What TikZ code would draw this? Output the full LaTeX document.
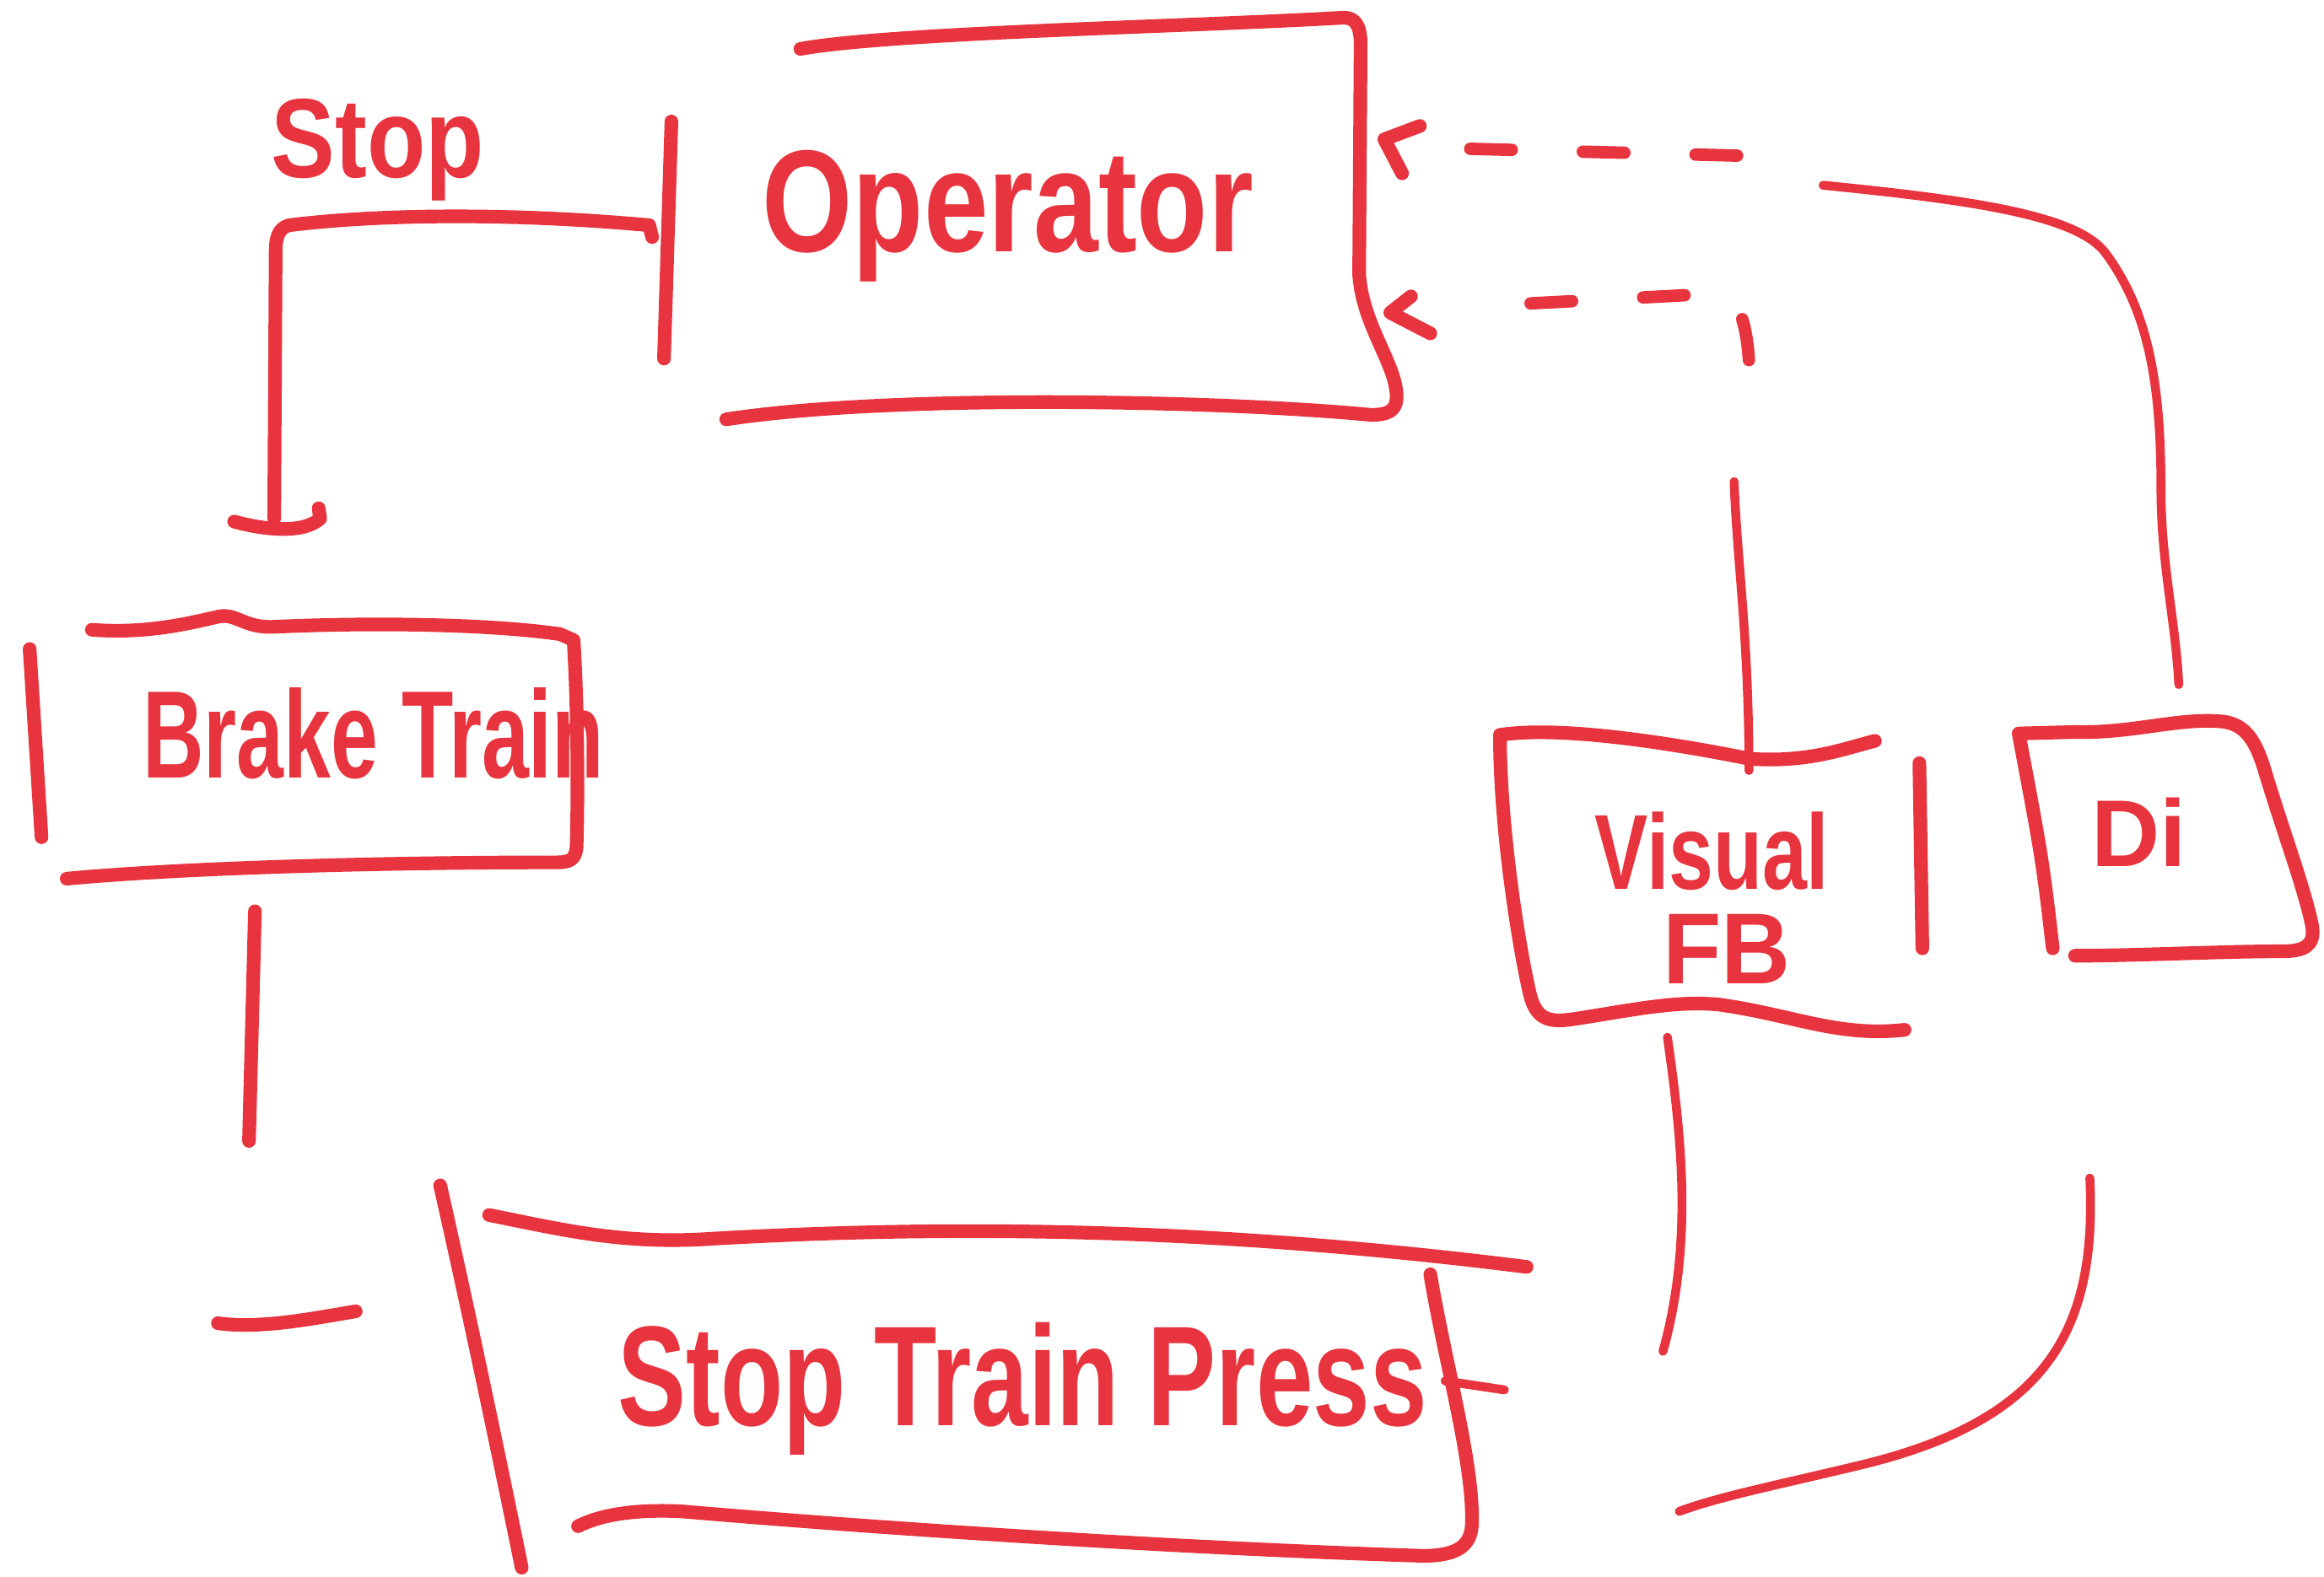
\documentclass[tikz,border=0pt]{standalone}
\usepackage{fontspec}
\setmainfont{Liberation Sans}
\definecolor{marker}{RGB}{232,52,62}
\begin{document}
\begin{tikzpicture}[x=0.01757cm,y=-0.01757cm,
  ink/.style={draw=marker,line width=4.6pt,line cap=round,line join=round},
  fine/.style={draw=marker,line width=3pt,line cap=round,line join=round},
  dashink/.style={draw=marker,line width=4.2pt,line cap=round,dash pattern=on 14pt off 24pt},
  hand/.style={text=marker,font=\bfseries\fontsize{#1}{#1}\selectfont,inner sep=0pt,anchor=base},
]
\useasboundingbox[fill=white] (0,0) rectangle (1568,1064);

% ---------- labels ----------
\node[hand=49,xscale=0.8]  (op)   at (680,170) {Operator};
\node[hand=38,xscale=0.85] (stop) at (255,120) {Stop};
\node[hand=42,xscale=0.68] (brk)  at (252,525) {Brake Train};
\node[hand=36,xscale=0.75] (vis)  at (1155,600) {Visual};
\node[hand=34,xscale=0.95] (fb)   at (1165,664) {FB};
\node[hand=32]             (di)   at (1443,585) {Di};
\node[hand=48,xscale=0.72] (stp)  at (690,962) {Stop Train Press};

% ---------- Operator box ----------
\draw[ink] (540,33) .. controls (600,22) and (800,18) .. (905,12)
  .. controls (915,11) and (918,18) .. (918,30) -- (917,185)
  .. controls (919,215) and (936,238) .. (941,258)
  .. controls (945,275) and (940,280) .. (925,280)
  .. controls (820,270) and (600,266) .. (490,283);
\coordinate (opbarT) at (453,82);
\coordinate (opbarB) at (448,242);
\draw[ink] (opbarT) -- (opbarB);

% ---------- Brake Train box ----------
\draw[ink] (62,425) .. controls (100,428) and (130,420) .. (148,416)
  .. controls (160,414) and (165,424) .. (185,423)
  .. controls (250,420) and (330,421) .. (378,428) -- (387,432)
  .. controls (390,480) and (390,540) .. (389,572)
  .. controls (388,580) and (385,582) .. (375,582)
  .. controls (250,582) and (120,586) .. (45,593);
\draw[ink] (20,438) -- (28,565);

% ---------- Stop Train Press box ----------
\coordinate (stpbarT) at (297,800);
\coordinate (stpbarB) at (352,1058);
\draw[ink] (stpbarT) .. controls (315,880) and (332,960) .. (stpbarB);
\draw[ink] (330,820) .. controls (380,830) and (420,840) .. (480,836)
  .. controls (620,828) and (800,826) .. (1030,855);
\draw[ink] (965,860) .. controls (975,920) and (995,990) .. (993,1030)
  .. controls (992,1045) and (980,1050) .. (960,1050)
  .. controls (800,1045) and (600,1032) .. (460,1020)
  .. controls (420,1018) and (400,1025) .. (390,1030);
\coordinate (stpR) at (975,932);
\draw[fine] (stpR) -- (1015,938);

% ---------- Visual FB box ----------
\draw[ink] (1265,500) .. controls (1245,505) and (1220,515) .. (1180,512)
  .. controls (1120,500) and (1050,490) .. (1012,496)
  .. controls (1012,560) and (1025,640) .. (1032,670)
  .. controls (1036,688) and (1045,690) .. (1060,688)
  .. controls (1100,682) and (1130,675) .. (1160,678)
  .. controls (1210,685) and (1240,700) .. (1285,695);
\draw[ink] (1295,515) -- (1297,640);
\coordinate (visT) at (1180,520);
\coordinate (visB) at (1125,700);

% ---------- Di box ----------
\draw[ink] (1385,640) .. controls (1378,580) .. (1362,495) -- (1400,494)
  .. controls (1440,495) and (1470,484) .. (1500,487)
  .. controls (1515,489) and (1522,500) .. (1528,520)
  .. controls (1540,560) and (1555,600) .. (1560,625)
  .. controls (1562,638) and (1555,642) .. (1540,642)
  .. controls (1500,642) and (1440,645) .. (1400,645);
\coordinate (diT) at (1470,462);
\coordinate (diB) at (1410,795);

% ---------- Stop: Operator to Brake Train ----------
\coordinate (stopA) at (440,160);
\coordinate (stopB) at (185,350);
\draw[ink] (stopA) -- (438,152) .. controls (350,144) and (260,144) .. (195,152)
  .. controls (188,154) and (186,160) .. (186,170) -- (stopB);
\draw[ink] (158,352) .. controls (180,358) and (205,360) .. (216,350) -- (215,343);

% ---------- Brake Train to Stop Train Press ----------
\coordinate (brkB) at (172,615);
\draw[ink] (brkB) -- (168,770);
\draw[ink] (147,893) .. controls (175,897) and (210,890) .. (240,885);

% ---------- Visual FB to Operator (dashed) ----------
\coordinate (opR2) at (938,211);
\draw[fine] (visT) .. controls (1180,430) and (1172,380) .. (1170,325);
\draw[dashink] (1180,243) .. controls (1178,215) and (1172,200) .. (1160,198) -- (990,207);
\draw[ink] (952,200) -- (opR2) -- (965,225);

% ---------- Di to Operator ----------
\coordinate (opR1) at (934,94);
\draw[dashink] (1172,105) -- (975,100);
\draw[fine] (1230,125) .. controls (1330,135) and (1400,145) .. (1420,170)
  .. controls (1450,210) and (1458,260) .. (1458,330)
  .. controls (1458,380) and (1468,420) .. (diT);
\draw[ink] (958,85) -- (opR1) -- (946,117);

% ---------- Visual FB and Di to Stop Train Press ----------
\draw[fine] (visB) .. controls (1135,770) and (1142,840) .. (1122,912);
\draw[fine] (diB) .. controls (1415,900) and (1380,960) .. (1250,990)
  .. controls (1200,1002) and (1160,1010) .. (1133,1020);
\end{tikzpicture}
\end{document}
